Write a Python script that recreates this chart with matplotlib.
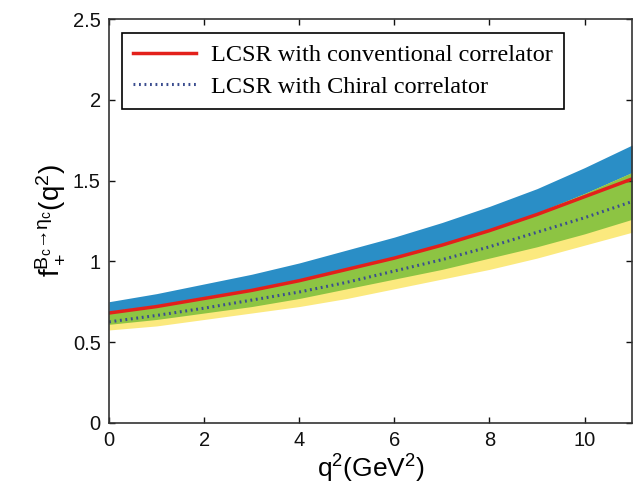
import numpy as np
import matplotlib.pyplot as plt

# q^2 grid (GeV^2) and form factor values
q2 = [0, 1, 2, 3, 4, 5, 6, 7, 8, 9, 10, 11]

# LCSR with conventional correlator: central, upper, lower
conv_c = [0.68, 0.72, 0.77, 0.82, 0.88, 0.95, 1.02, 1.10, 1.19, 1.29, 1.40, 1.51]
conv_up = [0.75, 0.80, 0.86, 0.92, 0.99, 1.07, 1.15, 1.24, 1.34, 1.45, 1.58, 1.72]
conv_lo = [0.61, 0.64, 0.68, 0.72, 0.77, 0.83, 0.89, 0.95, 1.02, 1.09, 1.17, 1.26]

# LCSR with chiral correlator: central, upper, lower
chi_c = [0.625, 0.665, 0.71, 0.76, 0.81, 0.87, 0.94, 1.01, 1.09, 1.18, 1.27, 1.37]
chi_up = [0.69, 0.73, 0.78, 0.83, 0.89, 0.96, 1.03, 1.11, 1.20, 1.30, 1.42, 1.55]
chi_lo = [0.575, 0.60, 0.64, 0.68, 0.72, 0.77, 0.83, 0.89, 0.95, 1.02, 1.10, 1.18]

blue = '#2a8ec6'
yellow = '#fbe97e'
green = '#8dc443'

plt.rcParams['mathtext.fontset'] = 'custom'
plt.rcParams['mathtext.rm'] = 'Liberation Sans'
plt.rcParams['mathtext.it'] = 'Liberation Sans'

fig = plt.figure(figsize=(6.34, 5.01), dpi=100)
ax = fig.add_axes([0.172, 0.156, 0.825, 0.806])

ax.fill_between(q2, conv_lo, conv_up, color=blue, lw=0)
ax.fill_between(q2, chi_lo, chi_up, color=yellow, lw=0)
ax.fill_between(q2, np.maximum(conv_lo, chi_lo), np.minimum(conv_up, chi_up),
                color=green, lw=0)

ax.plot(q2, conv_c, color='#e3201b', lw=2.5, label='LCSR with conventional correlator')
ax.plot(q2, chi_c, color='#3b4d8f', lw=2.2, ls=(0, (0.6, 1.2)),
        label='LCSR with Chiral correlator')

ax.set_xlim(0, 11)
ax.set_ylim(0, 2.5)
ax.set_xticks([0, 2, 4, 6, 8, 10])
ax.set_yticks([0, 0.5, 1, 1.5, 2, 2.5])
ax.set_yticklabels(['0', '0.5', '1', '1.5', '2', '2.5'])
ax.tick_params(direction='in', top=True, right=True, length=4, width=1,
               labelsize=14.5, pad=6, colors='#111111')
for lab in ax.get_xticklabels() + ax.get_yticklabels():
    lab.set_family('Liberation Sans')
for s in ax.spines.values():
    s.set_color('#333333')
    s.set_linewidth(1.2)

ax.set_xlabel(r'q$^2$(GeV$^2$)', fontsize=19, family='Liberation Sans', labelpad=2)
ax.set_ylabel(r'f$_+^{\mathrm{B_c→η_c}}$(q$^2$)', fontsize=20,
              family='Liberation Sans', labelpad=4)

leg = ax.legend(loc='upper left', bbox_to_anchor=(0.025, 0.965), frameon=True,
                fancybox=False, edgecolor='black', framealpha=1,
                prop={'family': 'Liberation Serif', 'size': 17.5},
                handlelength=2.6, borderpad=0.45, labelspacing=0.4, handletextpad=0.6,
                borderaxespad=0)
leg.get_frame().set_linewidth(1.2)

fig.savefig('out.png', dpi=100)
